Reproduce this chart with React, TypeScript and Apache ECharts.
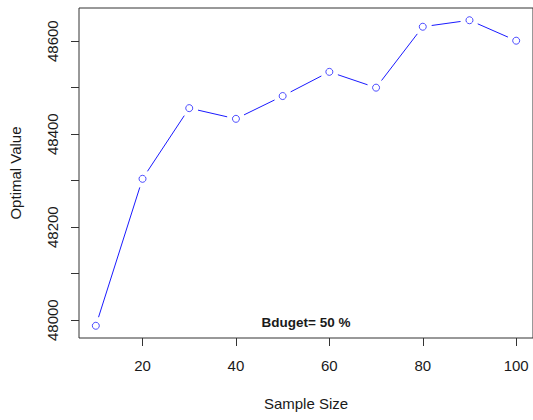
import React, { useEffect, useRef } from "react";
import * as echarts from "echarts";

const sampleSizes = [10, 20, 30, 40, 50, 60, 70, 80, 90, 100];
const optimalValues = [47988, 48304, 48456, 48433, 48482, 48534, 48500, 48631, 48645, 48601];
const xTickValues = [20, 40, 60, 80, 100];
const yTickValues = [48000, 48100, 48200, 48300, 48400, 48500, 48600];
const yLabelValues = [48000, 48200, 48400, 48600];
const annotation = "Bduget= 50 %";

const FONT = "'Liberation Sans', Arial, sans-serif";
const TEXT = "#1a1a1a";
const AXIS = "#333333";
const GAP = 9;

export default function App() {
  const ref = useRef<HTMLDivElement>(null);
  useEffect(() => {
    document.body.style.margin = "0";
    const chart = echarts.init(ref.current!, null, { renderer: "svg" });
    const points = sampleSizes.map((x, i) => [x, optimalValues[i]]);
    const segments = sampleSizes.slice(0, -1).map((x, i) => [
      x,
      optimalValues[i],
      sampleSizes[i + 1],
      optimalValues[i + 1],
    ]);
    chart.setOption({
      animation: false,
      backgroundColor: "#ffffff",
      grid: {
        left: 79,
        top: 8,
        width: 456.6,
        height: 330,
        show: true,
        borderColor: AXIS,
        borderWidth: 1,
        backgroundColor: "transparent",
      },
      xAxis: {
        type: "value",
        min: 6.4,
        max: 103.6,
        name: "Sample Size",
        nameLocation: "middle",
        nameGap: 58,
        nameTextStyle: { fontFamily: FONT, fontSize: 15, color: TEXT },
        axisLine: { show: false },
        axisTick: { show: true, length: 8, lineStyle: { color: AXIS }, customValues: xTickValues },
        axisLabel: {
          customValues: xTickValues,
          margin: 20,
          fontFamily: FONT,
          fontSize: 15,
          color: TEXT,
          formatter: (v: number) => String(v),
        },
        splitLine: { show: false },
      },
      yAxis: {
        type: "value",
        min: 47961.7,
        max: 48671.3,
        name: "Optimal Value",
        nameLocation: "middle",
        nameRotate: 90,
        nameGap: 56,
        nameTextStyle: { fontFamily: FONT, fontSize: 15, color: TEXT },
        axisLine: { show: false },
        axisTick: { show: true, length: 8, lineStyle: { color: AXIS }, customValues: yTickValues },
        axisLabel: {
          customValues: yLabelValues,
          rotate: 90,
          margin: 19,
          fontFamily: FONT,
          fontSize: 15,
          color: TEXT,
          formatter: (v: number) => String(v),
        },
        splitLine: { show: false },
      },
      graphic: [
        {
          type: "text",
          x: 306,
          y: 322,
          style: {
            text: annotation,
            fontFamily: FONT,
            fontSize: 13.5,
            fontWeight: "bold",
            fill: TEXT,
            textAlign: "center",
            textVerticalAlign: "middle",
          },
        },
      ],
      series: [
        {
          type: "custom",
          data: segments,
          encode: { x: [0, 2], y: [1, 3] },
          renderItem: (params: any, api: any) => {
            const p0 = api.coord([api.value(0), api.value(1)]);
            const p1 = api.coord([api.value(2), api.value(3)]);
            const dx = p1[0] - p0[0];
            const dy = p1[1] - p0[1];
            const len = Math.sqrt(dx * dx + dy * dy);
            if (len <= 2 * GAP) return null;
            const ux = dx / len;
            const uy = dy / len;
            return {
              type: "line",
              shape: {
                x1: p0[0] + ux * GAP,
                y1: p0[1] + uy * GAP,
                x2: p1[0] - ux * GAP,
                y2: p1[1] - uy * GAP,
              },
              style: { stroke: "#1a1aff", lineWidth: 1 },
            };
          },
          z: 2,
        },
        {
          type: "scatter",
          data: points,
          symbol: "circle",
          symbolSize: 7,
          itemStyle: { color: "#ffffff", borderColor: "#2020ff", borderWidth: 1 },
          z: 3,
        },
      ],
    });
    return () => chart.dispose();
  }, []);
  return <div ref={ref} style={{ width: 533, height: 420 }} />;
}
